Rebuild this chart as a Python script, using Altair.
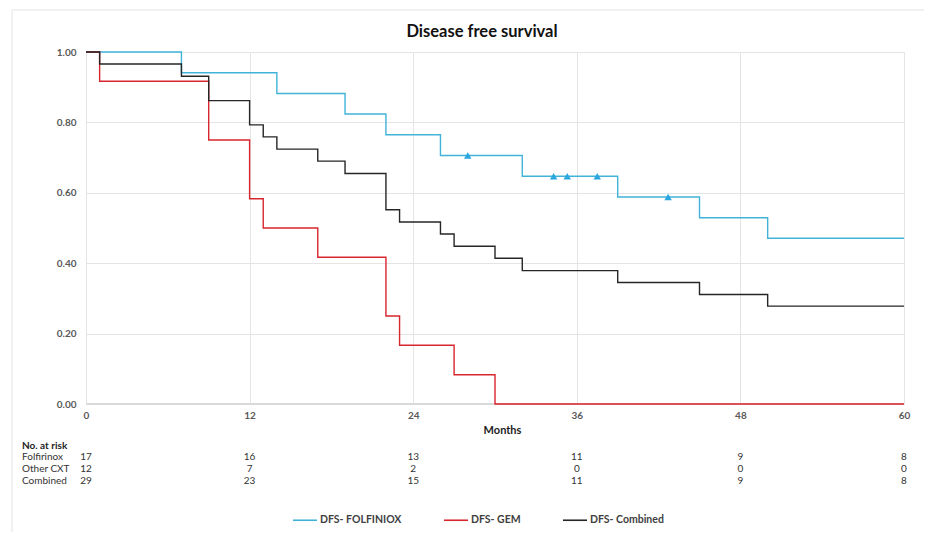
import altair as alt
import pandas as pd

# ---- data ----
chart_title = "Disease free survival"
series_names = ["DFS- FOLFINIOX", "DFS- GEM", "DFS- Combined"]
series_colors = ["#41B3D9", "#D7262E", "#262626"]

folf_t = [0, 7, 14, 19, 22, 26, 32, 39, 45, 50, 60]
folf_s = [1.0, 0.941, 0.882, 0.824, 0.765, 0.706, 0.647, 0.588, 0.529, 0.471, 0.471]

gem_t = [0, 1, 9, 12, 13, 17, 22, 23, 27, 30, 60]
gem_s = [1.0, 0.917, 0.75, 0.583, 0.5, 0.417, 0.25, 0.167, 0.083, 0.0, 0.0]

comb_t = [0, 1, 7, 9, 12, 13, 14, 17, 19, 22, 23, 26, 27, 30, 32, 39, 45, 50, 60]
comb_s = [1.0, 0.966, 0.931, 0.862, 0.793, 0.759, 0.724, 0.690, 0.655, 0.552,
          0.517, 0.483, 0.448, 0.414, 0.379, 0.345, 0.311, 0.278, 0.278]

censor_t = [28, 34.3, 35.3, 37.5, 42.7]
censor_s = [0.706, 0.647, 0.647, 0.647, 0.588]

risk_months = [0, 12, 24, 36, 48, 60]
risk_rows = ["Folfirinox", "Other CXT", "Combined"]
risk_folf = [17, 16, 13, 11, 9, 8]
risk_other = [12, 7, 2, 0, 0, 0]
risk_comb = [29, 23, 15, 11, 9, 8]

x_ticks = [0, 12, 24, 36, 48, 60]
y_ticks = [0, 0.2, 0.4, 0.6, 0.8, 1.0]

# ---- tables ----
rows = []
for name, ts, ss in zip(series_names, [folf_t, gem_t, comb_t], [folf_s, gem_s, comb_s]):
    for i, (t, s) in enumerate(zip(ts, ss)):
        rows.append({"series": name, "t": t, "s": s, "i": i})
curves = pd.DataFrame(rows)
censors = pd.DataFrame({"t": censor_t, "s": censor_s})

risk_records = []
for r, vals in zip(risk_rows, [risk_folf, risk_other, risk_comb]):
    for m, v in zip(risk_months, vals):
        risk_records.append({"row": r, "m": m, "n": v})
risk_df = pd.DataFrame(risk_records)

W, H = 818, 352

xscale = alt.Scale(domain=[0, 60], nice=False)
yscale = alt.Scale(domain=[0, 1], nice=False)
cscale = alt.Scale(domain=series_names, range=series_colors)

font = "Lato"

xaxis = alt.Axis(values=x_ticks, title="Months", grid=True, gridColor="#e4e4e4",
                 ticks=False, domain=False, labelFont=font, labelFontSize=10,
                 labelColor="#595959", labelFontWeight="bold", labelPadding=6,
                 labelFlush=False,
                 titleFont=font, titleFontSize=11, titleFontWeight="bold",
                 titleColor="#222222", titlePadding=4, titleX=416, titleAnchor="middle")
yaxis = alt.Axis(values=y_ticks, format=".2f", title=None, grid=True, gridColor="#e4e4e4",
                 ticks=False, domain=False, labelFont=font, labelFontSize=10,
                 labelColor="#595959", labelFontWeight="bold", labelPadding=10)

lines = []
for name in series_names:
    lines.append(
        alt.Chart(curves).transform_filter(alt.datum.series == name)
        .mark_line(interpolate="step-after", strokeWidth=1.4)
        .encode(
            x=alt.X("t:Q", scale=xscale, axis=xaxis),
            y=alt.Y("s:Q", scale=yscale, axis=yaxis),
            order="i:Q",
            color=alt.Color("series:N", scale=cscale, sort=series_names,
                            legend=alt.Legend(title=None, orient="none", direction="horizontal",
                                              legendX=206, legendY=455,
                                              symbolType="stroke", symbolSize=580,
                                              symbolStrokeWidth=1.6,
                                              labelFont=font, labelFontSize=10.5,
                                              labelFontWeight="bold", labelColor="#404040",
                                              columnPadding=38, labelOffset=2)),
        )
    )

axis_line = alt.Chart(pd.DataFrame({"y": [0]})).mark_rule(color="#d9d9d9", strokeWidth=2).encode(
    y=alt.Y("y:Q", scale=yscale))

marks = alt.Chart(censors).mark_point(shape="triangle-up", filled=True, size=55,
                                      color="#2AA7DF", opacity=1).encode(
    x=alt.X("t:Q", scale=xscale), y=alt.Y("s:Q", scale=yscale))

row_y = {"Folfirinox": 405, "Other CXT": 417, "Combined": 429}
risk_layers = []
for r in risk_rows:
    sub = risk_df[risk_df["row"] == r]
    risk_layers.append(
        alt.Chart(sub).mark_text(font=font, fontSize=10, color="#333333", baseline="middle")
        .encode(x=alt.X("m:Q", scale=xscale), y=alt.value(row_y[r]), text="n:Q"))
    risk_layers.append(
        alt.Chart(pd.DataFrame({"label": [r]})).mark_text(font=font, fontSize=10, color="#333333",
                                                           align="left", baseline="middle")
        .encode(x=alt.value(-64), y=alt.value(row_y[r]), text="label:N"))

risk_title = alt.Chart(pd.DataFrame({"label": ["No. at risk"]})).mark_text(
    font=font, fontSize=10, fontWeight="bold", color="#222222", align="left", baseline="middle"
).encode(x=alt.value(-64), y=alt.value(394), text="label:N")

title_mark = alt.Chart(pd.DataFrame({"label": [chart_title]})).mark_text(
    font=font, fontSize=16.5, fontWeight="bold", color="#111111", align="center", baseline="middle"
).encode(x=alt.value(396), y=alt.value(-20), text="label:N")

frame_left = alt.Chart(pd.DataFrame({"a": [0]})).mark_rule(color="#ececec", strokeWidth=1.5).encode(
    x=alt.value(-74), y=alt.value(-42), y2=alt.value(484))
frame_top = alt.Chart(pd.DataFrame({"a": [0]})).mark_rule(color="#ececec", strokeWidth=1.5).encode(
    x=alt.value(-74), x2=alt.value(850), y=alt.value(-42))

chart = alt.layer(frame_left, frame_top, axis_line, *lines, marks, *risk_layers, risk_title,
                  title_mark).properties(
    width=W, height=H,
    autosize=alt.AutoSizeParams(type="none"),
    padding={"left": 78, "top": 44, "right": 20, "bottom": 128},
).configure_view(stroke=None).configure_axis(gridWidth=1)

chart.save("out.html", embed_options={"renderer": "svg", "actions": False})
